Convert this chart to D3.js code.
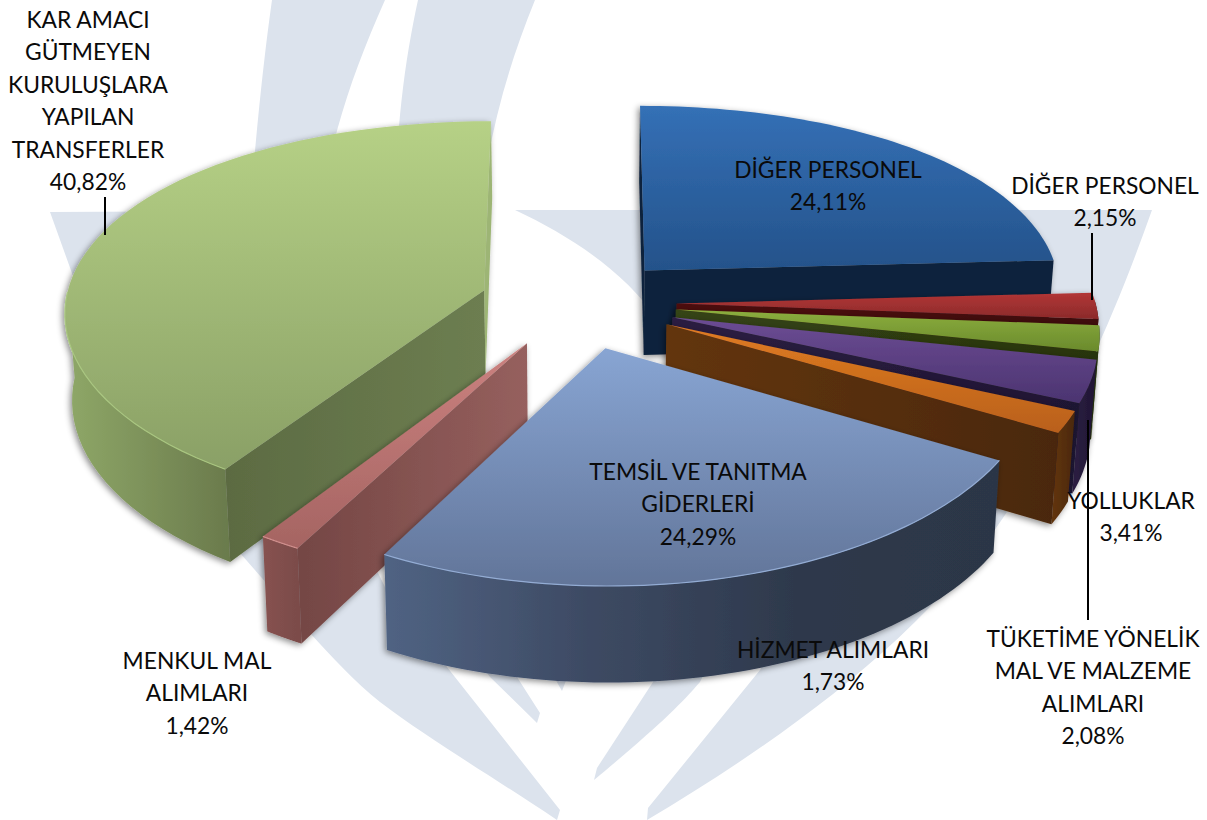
<!DOCTYPE html>
<html><head><meta charset="utf-8">
<script src="https://cdn.jsdelivr.net/npm/d3@7"></script>
<style>html,body{margin:0;padding:0;background:#fff}svg{display:block}text{font-family:Lato,"Open Sans",sans-serif;font-size:22.8px;fill:#0a0a0a}</style>
</head><body><div id="chart"></div>
<script>
const categories=["DİĞER PERSONEL","DİĞER PERSONEL","TÜKETİME YÖNELİK MAL VE MALZEME ALIMLARI","YOLLUKLAR","HİZMET ALIMLARI","TEMSİL VE TANITMA GİDERLERİ","MENKUL MAL ALIMLARI","KAR AMACI GÜTMEYEN KURULUŞLARA YAPILAN TRANSFERLER"];
const shareValues=[24.11,2.15,2.08,3.41,1.73,24.29,1.42,40.82];
const valueLabels=["24,11%","2,15%","2,08%","3,41%","1,73%","24,29%","1,42%","40,82%"];
const labelLines=[["DİĞER PERSONEL"],["DİĞER PERSONEL"],["TÜKETİME YÖNELİK","MAL VE MALZEME","ALIMLARI"],["YOLLUKLAR"],["HİZMET ALIMLARI"],["TEMSİL VE TANITMA","GİDERLERİ"],["MENKUL MAL","ALIMLARI"],["KAR AMACI","GÜTMEYEN","KURULUŞLARA","YAPILAN","TRANSFERLER"]];

const W=1207,H=820;
const svg=d3.select("#chart").append("svg").attr("width",W).attr("height",H);
const defs=svg.append("defs");
const f=defs.append("filter").attr("id","sh").attr("x","-10%").attr("y","-10%").attr("width","120%").attr("height","120%");
f.append("feDropShadow").attr("dx",-2).attr("dy",2).attr("stdDeviation",3).attr("flood-color","#000").attr("flood-opacity",.45);

// watermark
const wm=svg.append("g").attr("fill","#dce3ed");
[
 "M272,0 L385,0 C345,90 320,170 318,260 C318,400 340,500 385,587 L447,667 L560,810 L557,820 C490,775 430,740 380,702 C355,682 330,655 310,633 L240,553 C235,350 255,120 272,0Z",
 "M418,0 L535,0 C490,110 470,220 480,330 L517,677 L540,713 L537,723 L490,677 C430,600 395,420 395,230 C395,130 405,60 418,0Z",
 "M550,670 L570,670 L562,691Z",
 "M50,212 L470,210 L300,400 L105,365Z",
 "M515,210 L1152,210 C1120,300 1080,400 1005,515 C925,635 790,735 647,820 L648,808 L760,670 L800,600 L800,560 L700,420 C680,310 600,250 515,210Z",
 "M700,682 C680,705 660,725 594,780 L597,768 L653,682 L680,640 L720,640Z"
].forEach(d=>wm.append("path").attr("d",d));

// perspective model of the pie plane
const Cx=578,Cy=303,sx=419,sy=194,persp=0.13,explode=0.235,depth=86,pinch=0.014;
const scaleX=d3.scaleLinear().domain([0,1]).range([0,sx]);
const scaleY=d3.scaleLinear().domain([0,1]).range([0,sy]);
function project(u,v,z){
  const w=1/(1-persp*v), k=1-pinch*z;
  return [Cx+scaleX(u)*(1+0.1*v+0.025*v*v)*k, Cy+scaleY(v)*w+depth*z*(1+0.1*v)];
}
const pie=d3.pie().sort(null).value(d=>d)(shareValues);
const fills=[
 {top:["#3470b6","#24528a"],cut:["#10243c","#10243c"],side:["#10243c","#10243c"],side2:"#10243c",edge:null},
 {top:["#b23535","#8b2b2b"],cut:["#4d0f0f","#3f0c0c"],side:["#4d0f0f","#3f0c0c"],side2:"#4d0f0f",edge:null},
 {top:["#8cae3e","#6a8a2c"],cut:["#364415","#28340e"],side:["#364415","#28340e"],side2:"#364415",edge:null},
 {top:["#6c4c94","#4b3470"],cut:["#2c1e42","#1f1633"],side:["#2c1e42","#1f1633"],side2:"#2c1e42",edge:null},
 {top:["#e07c22","#b9601a"],cut:["#63350f","#4a280a"],side:["#63350f","#4a280a"],side2:"#63350f",edge:null},
 {top:["#88a5d3","#627599"],cut:["#2f3c50","#2f3c50"],side:["#506383","#3d4a63","#2e394c","#2c3646"],side2:"#33415a",edge:"#93acd4"},
 {top:["#cc8280","#a56462"],cut:["#744644","#96605e"],side:["#875250","#7a4b49"],side2:"#7a4a48",edge:"#d08f8d"},
 {top:["#b6d186","#8aa066"],cut:["#5c6b42","#6d7e51"],side:["#8fa868","#6a7a4c"],side2:"#9db574",edge:"#a9c680"}
];
function grad(id,c,x1,y1,x2,y2){
  const g=defs.append("linearGradient").attr("id",id).attr("x1",x1).attr("y1",y1).attr("x2",x2).attr("y2",y2);
  c.forEach((col,i)=>g.append("stop").attr("offset",i/(c.length-1)).attr("stop-color",col));
  return `url(#${id})`;
}
const line=d3.line();
const area=p=>{let a=0;for(let i=0;i<p.length;i++){const q=p[(i+1)%p.length];a+=p[i][0]*q[1]-q[0]*p[i][1];}return a/2;};
const order=[0,1,2,3,4,7,6,5];
order.forEach(i=>{
  const s=pie[i],c=fills[i],mid=(s.startAngle+s.endAngle)/2;
  const ex=Math.sin(mid)*explode, ey=-Math.cos(mid)*explode;
  const pt=(a,r,z)=>project(ex+r*Math.sin(a),ey-r*Math.cos(a),z);
  const steps=d3.range(0,61).map(t=>s.startAngle+(s.endAngle-s.startAngle)*t/60);
  const g=svg.append("g").attr("filter","url(#sh)");
  const front=steps.filter(a=>Math.cos(a)<0.02);
  if(front.length>1){
    const poly=front.map(a=>pt(a,1,0)).concat(front.slice().reverse().map(a=>pt(a,1,1)));
    g.append("path").attr("d",line(poly)+"Z").attr("fill",grad("side"+i,c.side,0,0,1,0));
  }
  [[s.startAngle,1],[s.endAngle,-1]].forEach(([a,dir],k)=>{
    const q=[pt(a,0,0),pt(a,1,0),pt(a,1,1),pt(a,0,1)];
    if(area(q)*dir<0){
      const fill=(i===7&&k===1)?c.side2:(i===0&&k===0)?c.side2:grad("cut"+i+k,c.cut,0,0,1,0);
      g.append("path").attr("d",line(q)+"Z").attr("fill",fill);
    }
  });
  const top=[pt(s.startAngle,0,0)].concat(steps.map(a=>pt(a,1,0)));
  g.append("path").attr("d",line(top)+"Z").attr("fill",grad("top"+i,c.top,0,0,0,1));
  if(c.edge&&front.length>1){
    g.append("path").attr("d",line(front.map(a=>pt(a,1,0)))).attr("fill","none").attr("stroke",c.edge).attr("stroke-width",1.2);
  }
});

// leader lines
[[105,197,105,235],[1092,233,1092,300],[1088,420,1088,620]].forEach(l=>svg.append("line")
 .attr("x1",l[0]).attr("y1",l[1]).attr("x2",l[2]).attr("y2",l[3]).attr("stroke","#000").attr("stroke-width",2));

// labels
const labelCenters=[[828,178],[1105,194],[1093,647],[1131,509],[833,658],[698,480],[197,669],[88,28]];
const lineGap=32.4;
categories.forEach((c,i)=>{
  const t=svg.append("text").attr("text-anchor","middle").attr("aria-label",c);
  labelLines[i].concat([valueLabels[i]]).forEach((ln,j)=>{
    t.append("tspan").attr("x",labelCenters[i][0]).attr("y",labelCenters[i][1]+j*lineGap).text(ln);
  });
});
</script></body></html>
